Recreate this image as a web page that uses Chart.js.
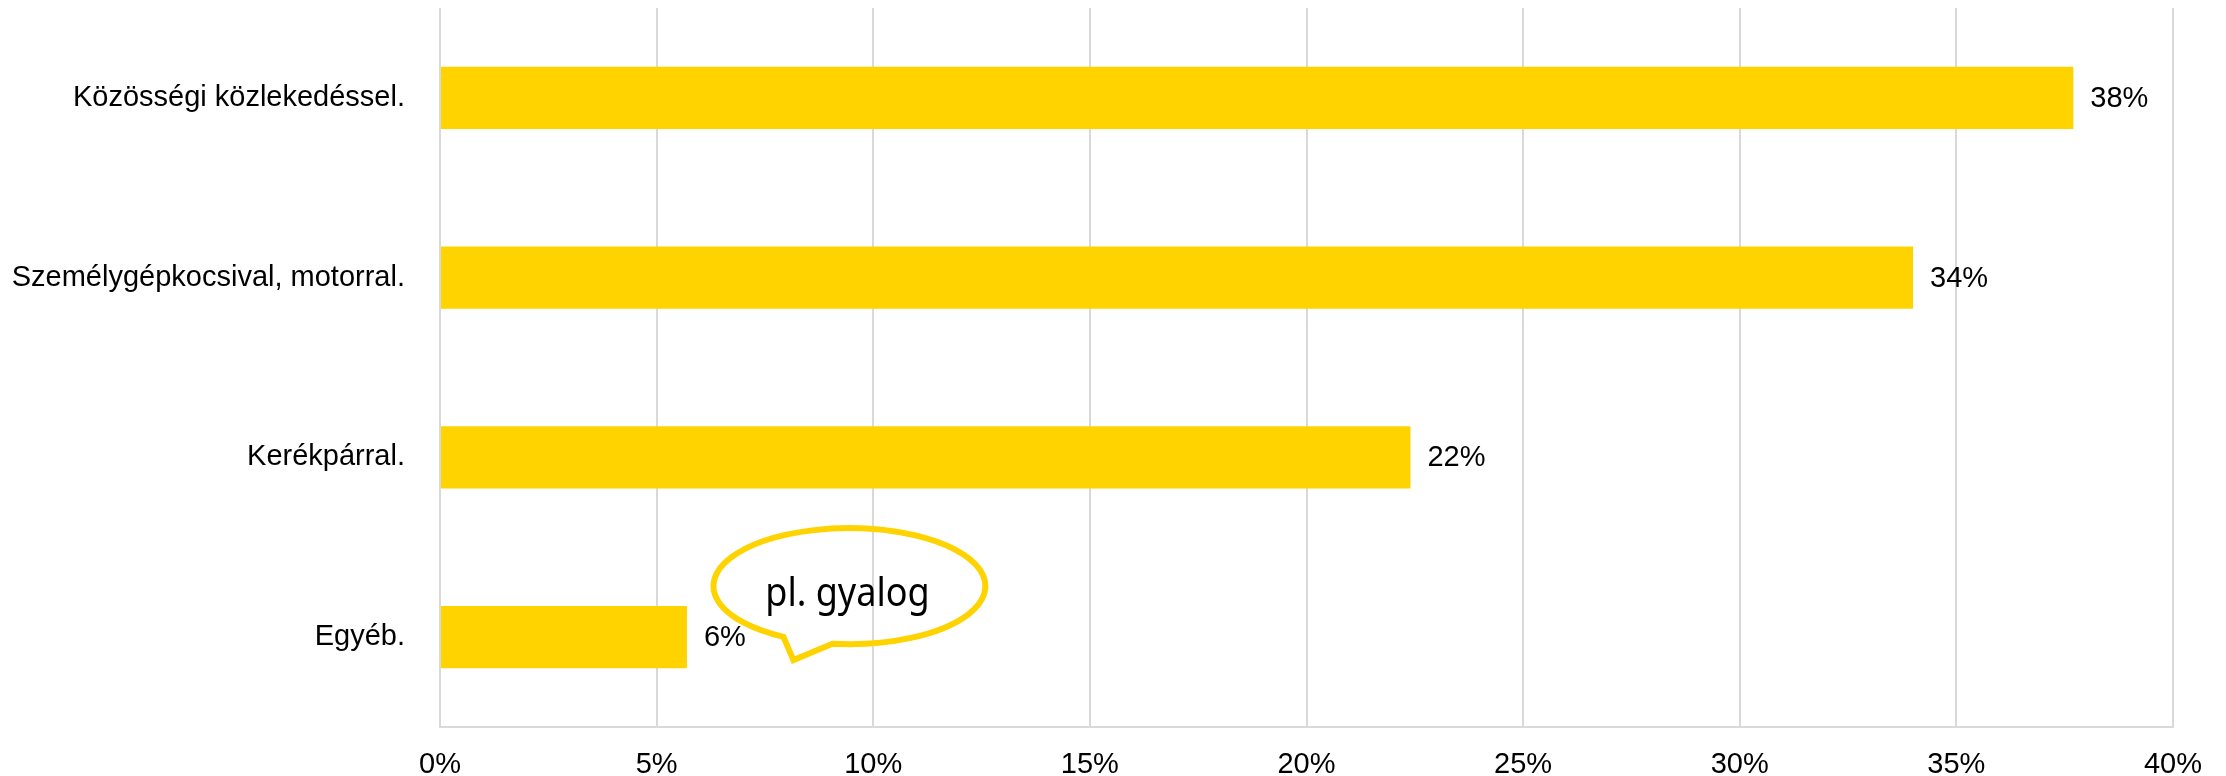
<!DOCTYPE html>
<html>
<head>
<meta charset="utf-8">
<script src="https://cdn.jsdelivr.net/npm/chart.js@4"></script>
<style>
  html, body { margin: 0; padding: 0; background: #fff; }
  #wrap { width: 2226px; height: 776px; }
</style>
</head>
<body>
<div id="wrap"><canvas id="barChart" width="2226" height="776"></canvas></div>
<script>
// adatok
var categories = ['Közösségi közlekedéssel.', 'Személygépkocsival, motorral.', 'Kerékpárral.', 'Egyéb.'];
var shares = [37.7, 34.0, 22.4, 5.7];
var xTicks = [0, 5, 10, 15, 20, 25, 30, 35, 40];
var calloutText = 'pl. gyalog';

var yellow = '#FFD300';
var gridGray = '#D9D9D9';
var fontFamily = '"Liberation Sans", Arial, sans-serif';
var fontSize = 29;

/* value labels next to the bars */
var valueLabels = {
	id : 'valueLabels',
	afterDatasetsDraw : function(chart) {
		var ctx = chart.ctx;
		var meta = chart.getDatasetMeta(0);
		ctx.save();
		ctx.font = fontSize + 'px ' + fontFamily;
		ctx.fillStyle = '#000';
		ctx.textAlign = 'left';
		ctx.textBaseline = 'middle';
		meta.data.forEach(function(bar, i) {
			ctx.fillText(Math.round(shares[i]) + '%', bar.x + 17, bar.y + 1);
		});
		ctx.restore();
	}
};

/* speech bubble at the "Egyéb." bar */
var bubble = {
	id : 'bubble',
	afterDraw : function(chart) {
		var ctx = chart.ctx;
		var xs = chart.scales.x, ys = chart.scales.y;
		var cx = xs.getPixelForValue(9.45);
		var cy = ys.getPixelForValue(3) - 51;
		var rx = 136, ry = 58;
		var tLeft = Math.acos(-66 / rx);   // left foot of the tail
		var tRight = Math.acos(-17 / rx);  // right foot of the tail
		var tipX = cx - 56, tipY = cy + 74;

		ctx.save();
		ctx.strokeStyle = yellow;
		ctx.lineWidth = 6;
		ctx.lineJoin = 'miter';
		ctx.beginPath();
		ctx.ellipse(cx, cy, rx, ry, 0, tLeft, tRight + Math.PI * 2, false);
		ctx.lineTo(tipX, tipY);
		ctx.closePath();
		ctx.stroke();

		ctx.fillStyle = '#000';
		ctx.font = '40px "Noto Sans", "Open Sans", sans-serif';
		ctx.textAlign = 'center';
		ctx.textBaseline = 'alphabetic';
		ctx.translate(cx - 2, cy + 20);
		ctx.scale(0.9, 1);
		ctx.fillText(calloutText, 0, 0);
		ctx.restore();
	}
};

var ctx = document.getElementById('barChart').getContext('2d');
var chart = new Chart(ctx, {
	type : 'bar',
	data : {
		labels : categories,
		datasets : [ {
			data : shares,
			backgroundColor : yellow,
			borderWidth : 0,
			barPercentage : 0.69,
			categoryPercentage : 0.5
		} ]
	},
	options : {
		indexAxis : 'y',
		responsive : false,
		animation : false,
		layout : {
			padding : { top : 8, right : 53, left : 0, bottom : 0 }
		},
		plugins : {
			legend : { display : false },
			tooltip : { enabled : false }
		},
		scales : {
			x : {
				min : 0,
				max : 40,
				afterBuildTicks : function(axis) {
					axis.ticks = xTicks.map(function(v) { return { value : v }; });
				},
				afterFit : function(axis) {
					axis.height = 49;
					axis.paddingLeft = 0;
					axis.paddingRight = 0;
				},
				grid : { color : gridGray, lineWidth : 2, drawTicks : false },
				border : { color : gridGray, width : 2 },
				ticks : {
					color : '#000',
					padding : 21,
					maxRotation : 0,
					font : { family : fontFamily, size : fontSize },
					callback : function(v) { return v + '%'; }
				}
			},
			y : {
				afterFit : function(axis) {
					axis.width = 440;
					axis.paddingTop = 0;
					axis.paddingBottom = 0;
				},
				grid : { display : false },
				border : { display : false },
				ticks : {
					color : '#000',
					padding : 27,
					font : { family : fontFamily, size : fontSize }
				}
			}
		}
	},
	plugins : [ valueLabels, bubble ]
});
</script>
</body>
</html>
